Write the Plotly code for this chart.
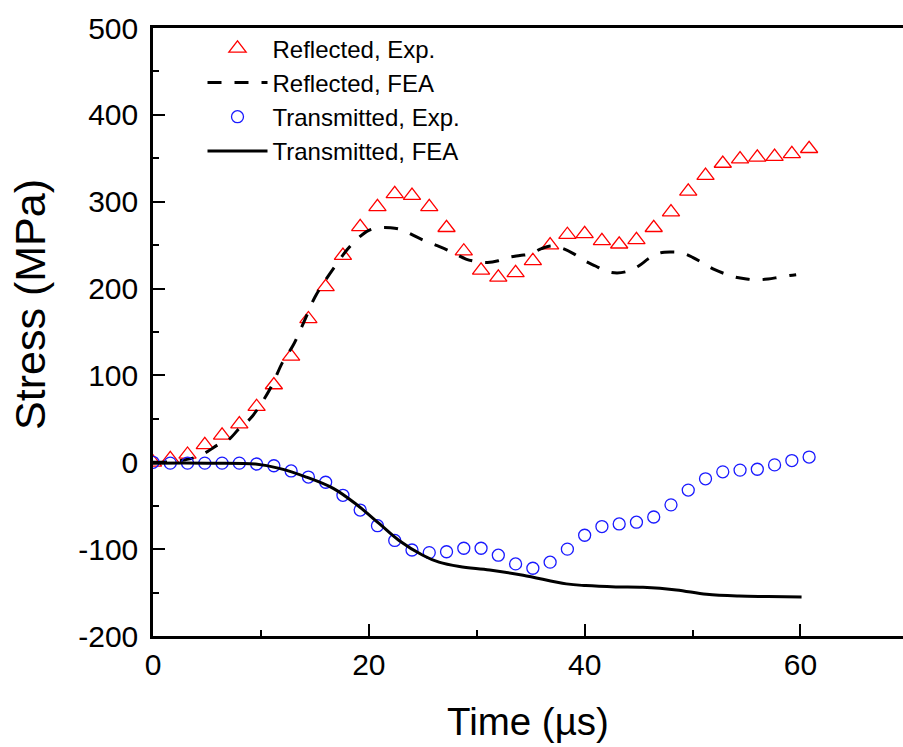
import plotly.graph_objects as go

# ---- data ----
step = 1.6
refl_exp_y = [0, 4, 9, 20, 31, 44, 64, 89, 122, 165, 202, 238, 271, 294, 309, 307,
              294, 270, 243, 221, 213, 218, 232, 250, 262, 263, 255, 251, 256, 270,
              288, 312, 330, 344, 349, 351, 352, 355, 361]
refl_exp_x = [round(i * step, 2) for i in range(len(refl_exp_y))]

trans_exp_y = [0, -1, -1, -1, -1, -1, -2, -4, -10, -17, -23, -38, -55, -73, -90, -101,
               -104, -103, -99, -99, -107, -117, -122, -115, -100, -84, -74, -71, -69, -63,
               -49, -32, -19, -11, -9, -8, -3, 2, 6]
trans_exp_x = [round(i * step, 2) for i in range(len(trans_exp_y))]

refl_fea_x = [0, 2, 3, 4, 5, 6, 7, 8, 9, 10, 11, 12, 13, 14, 15, 16, 17, 18, 19, 20,
              21, 22, 23, 24, 25, 26, 27, 28, 29, 30, 31, 32, 33, 34, 35, 36, 37, 38, 39,
              40, 41, 42, 43, 44, 45, 46, 47, 48, 49, 50, 51, 52, 53, 54, 55, 56, 57, 58,
              59, 59.6]
refl_fea_y = [0, 1, 3, 6, 12, 20, 26, 39, 50, 67, 88, 115, 135, 162, 190, 210, 228, 245,
              258, 267, 270, 270, 268, 262, 256, 251, 246, 240, 234, 231, 230, 232, 236,
              238, 240, 246, 249, 246, 240, 232, 226, 220, 218, 220, 226, 235, 241, 242,
              241, 236, 229, 222, 217, 213, 211, 210, 211, 213, 215, 216]

trans_fea_x = [0, 5, 9.5, 11.7, 14.2, 16.7, 18.8, 21, 22.8, 25, 26.5, 28.4, 31.2, 34.3,
               38.3, 40.1, 42.9, 45.4, 48.5, 51.3, 54.3, 57, 60.1]
trans_fea_y = [-1, -1, -2, -7, -17, -30, -48, -71, -90, -107, -115, -120, -124, -130,
               -140, -142, -143.5, -144, -147, -152, -154, -154.5, -155]

x_ticks = [0, 20, 40, 60]
y_ticks = [-200, -100, 0, 100, 200, 300, 400, 500]
y_tick_labels = ["-200", "-100", "0", "100", "200", "300", "400", "500"]

FONT = "Liberation Sans, Arial, sans-serif"

fig = go.Figure()
fig.add_trace(go.Scatter(
    x=refl_exp_x, y=refl_exp_y, mode="markers", name="Reflected, Exp.",
    marker=dict(symbol="triangle-up-open", size=15, color="#ff0000",
                line=dict(width=1.3, color="#ff0000")),
    legendgroup="a"))
fig.add_trace(go.Scatter(
    x=refl_fea_x, y=refl_fea_y, mode="lines", name="Reflected, FEA",
    line=dict(color="black", width=3, dash="14px,13px", shape="spline"),
    legendgroup="b"))
fig.add_trace(go.Scatter(
    x=trans_exp_x, y=trans_exp_y, mode="markers", name="Transmitted, Exp.",
    marker=dict(symbol="circle-open", size=12, color="#1a1aff",
                line=dict(width=1.3, color="#1a1aff")),
    legendgroup="c"))
fig.add_trace(go.Scatter(
    x=trans_fea_x, y=trans_fea_y, mode="lines", name="Transmitted, FEA",
    line=dict(color="black", width=3, shape="spline"),
    legendgroup="d"))

axis_common = dict(
    showgrid=False, zeroline=False, showline=True, linecolor="black", linewidth=2.5,
    ticks="inside", ticklen=12, tickwidth=2, tickcolor="black",
    tickfont=dict(family=FONT, size=30, color="black"),
)

fig.update_layout(
    width=903, height=747,
    margin=dict(l=153, r=0, t=28, b=111),
    paper_bgcolor="white", plot_bgcolor="white",
    font=dict(family=FONT, color="black"),
    xaxis=dict(range=[0, 69.5], tickvals=x_ticks, mirror=True,
               minor=dict(dtick=10, tick0=0, ticks="inside", ticklen=6, tickwidth=2, tickcolor="black"),
               ticklabelstandoff=0,
               title=dict(text="Time (\u00b5s)", font=dict(family=FONT, size=38.5), standoff=29),
               **axis_common),
    yaxis=dict(range=[-200, 500], tickvals=y_ticks, ticktext=y_tick_labels,
               minor=dict(dtick=50, tick0=0, ticks="inside", ticklen=6, tickwidth=2, tickcolor="black"),
               ticklabelstandoff=6,
               **axis_common),
    showlegend=True,
    legend=dict(x=0.066, y=1.003, xanchor="left", yanchor="top", bgcolor="rgba(0,0,0,0)",
                font=dict(family=FONT, size=24, color="black"), itemwidth=60,
                tracegroupgap=0),
    annotations=[dict(text="Stress (MPa)", textangle=-90, xref="paper", yref="paper",
                      x=-0.165, y=0.545, xanchor="center", yanchor="middle", showarrow=False,
                      font=dict(family=FONT, size=43, color="black"))],
)

fig.write_html("out.html")
